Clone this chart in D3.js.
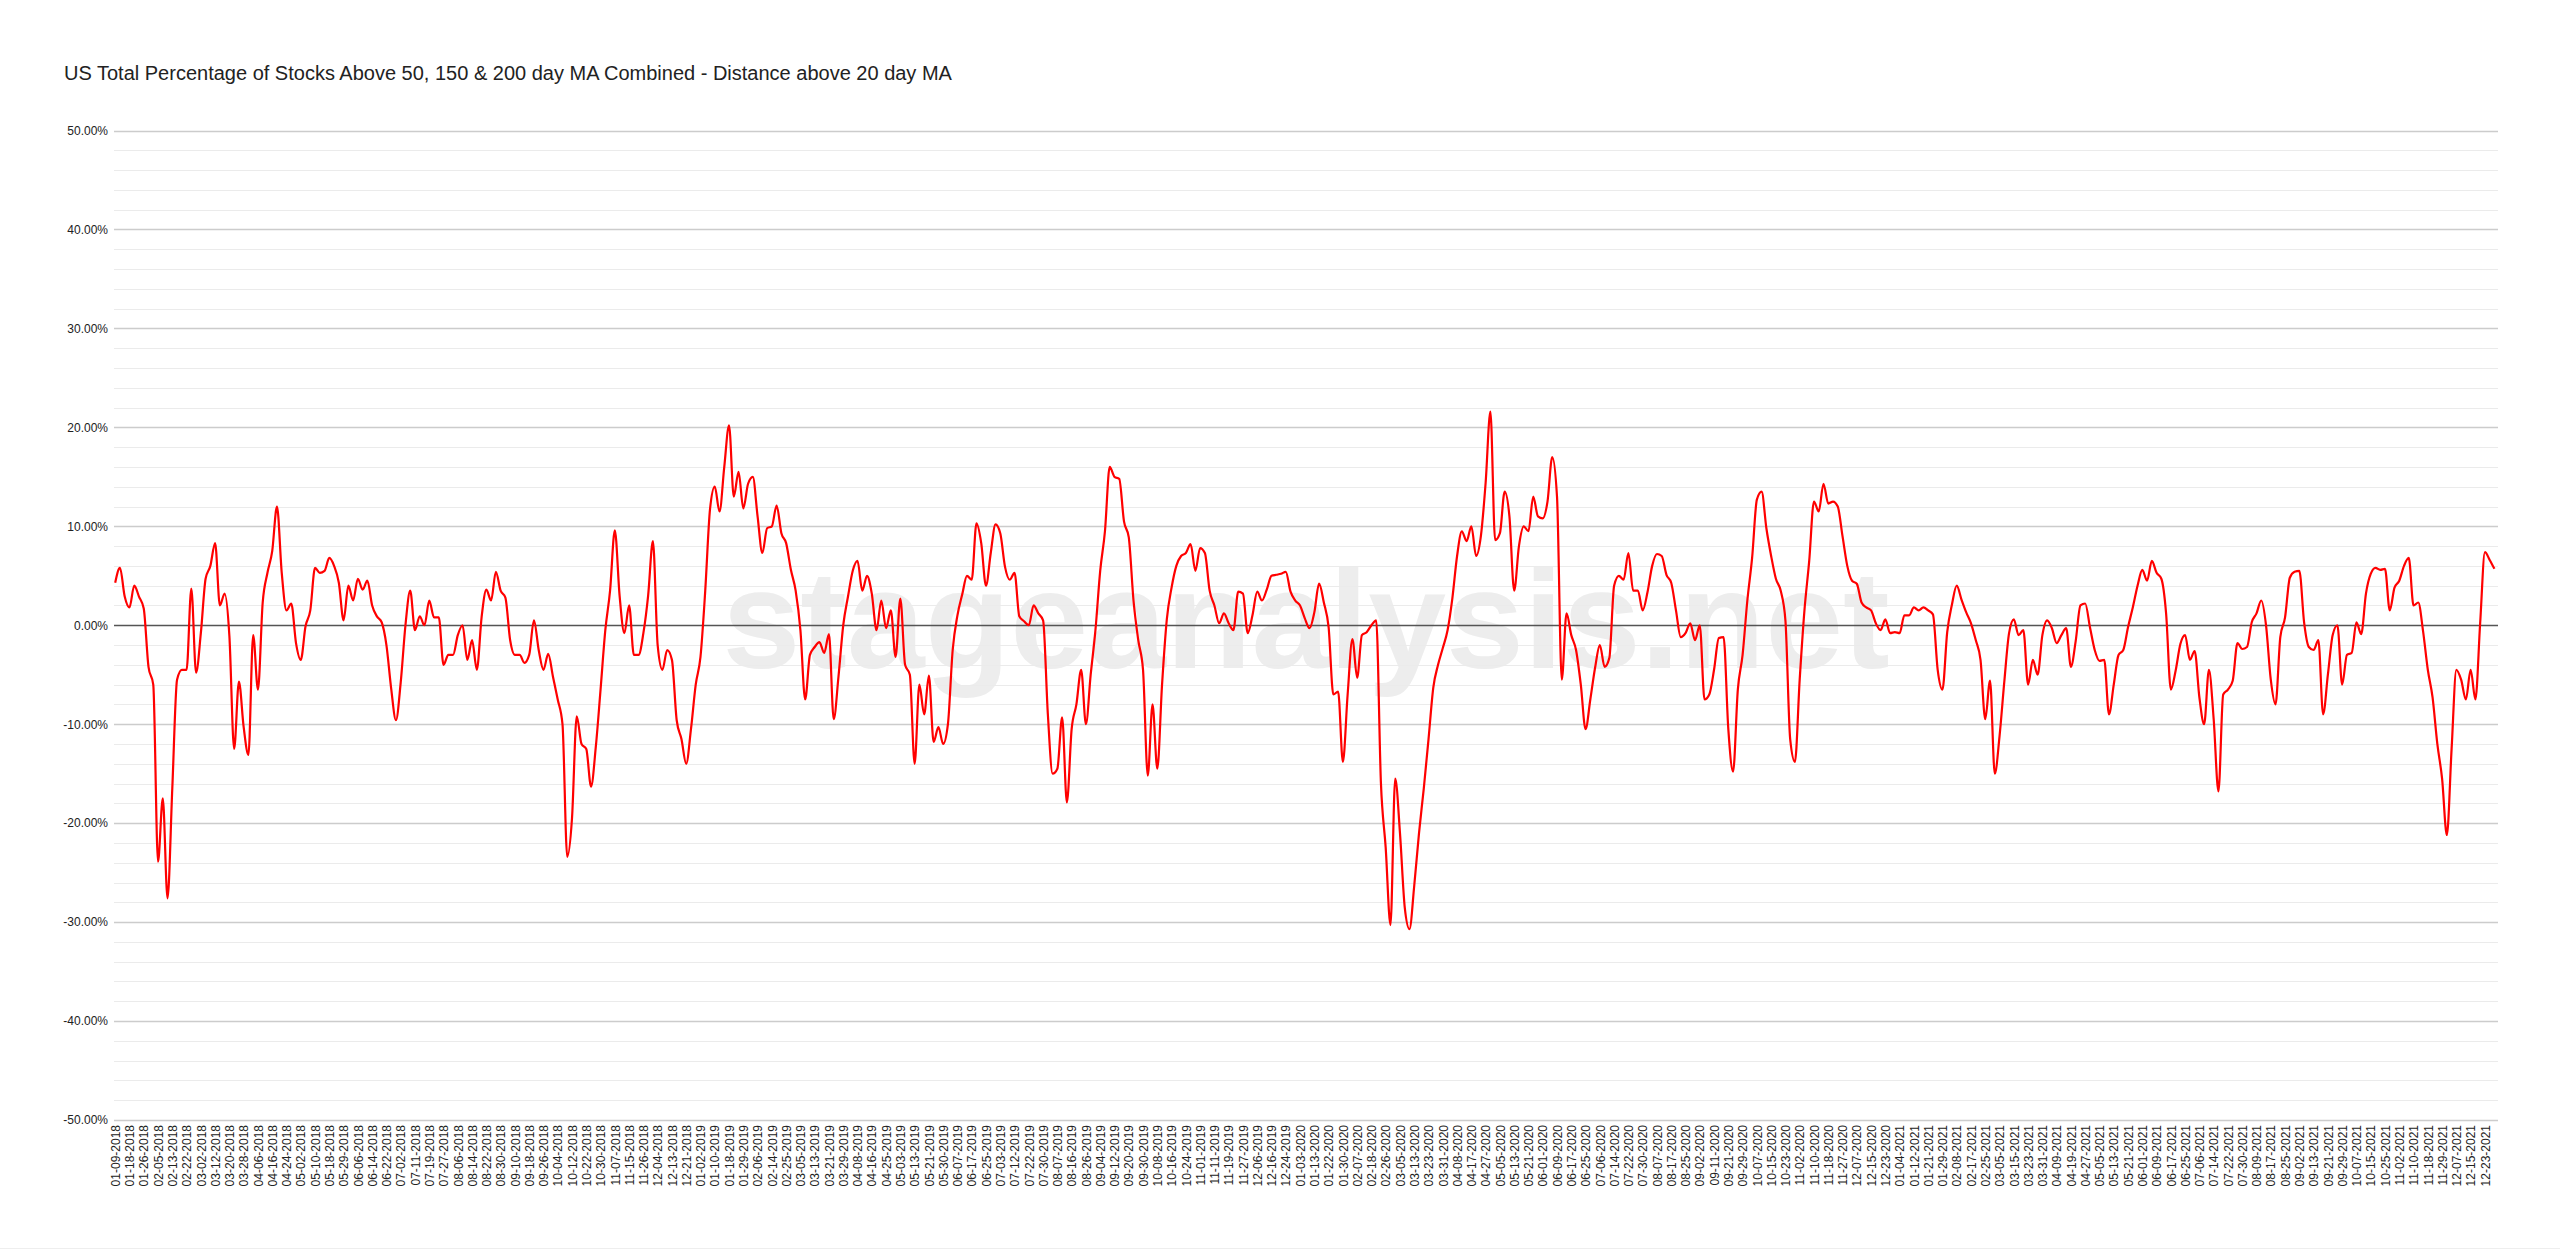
<!DOCTYPE html>
<html>
<head>
<meta charset="utf-8">
<script src="https://cdn.jsdelivr.net/npm/d3@7"></script>
<style>
    body { margin: 0; background: #fff; }
    svg text { font-family: Arial, "Liberation Sans", sans-serif; }
</style>
</head>
<body>
<svg id="chart" width="2560" height="1250"></svg>
<script>
const title = 'US Total Percentage of Stocks Above 50, 150 & 200 day MA Combined - Distance above 20 day MA';

// one label every 6 trading days
const tickLabels = [
    '01-09-2018', '01-18-2018', '01-26-2018', '02-05-2018', '02-13-2018', '02-22-2018', '03-02-2018', '03-12-2018', '03-20-2018', '03-28-2018',
    '04-06-2018', '04-16-2018', '04-24-2018', '05-02-2018', '05-10-2018', '05-18-2018', '05-29-2018', '06-06-2018', '06-14-2018', '06-22-2018',
    '07-02-2018', '07-11-2018', '07-19-2018', '07-27-2018', '08-06-2018', '08-14-2018', '08-22-2018', '08-30-2018', '09-10-2018', '09-18-2018',
    '09-26-2018', '10-04-2018', '10-12-2018', '10-22-2018', '10-30-2018', '11-07-2018', '11-15-2018', '11-26-2018', '12-04-2018', '12-13-2018',
    '12-21-2018',
    '01-02-2019', '01-10-2019', '01-18-2019', '01-29-2019', '02-06-2019', '02-14-2019', '02-25-2019', '03-05-2019', '03-13-2019', '03-21-2019',
    '03-29-2019', '04-08-2019', '04-16-2019', '04-25-2019', '05-03-2019', '05-13-2019', '05-21-2019', '05-30-2019', '06-07-2019', '06-17-2019',
    '06-25-2019', '07-03-2019', '07-12-2019', '07-22-2019', '07-30-2019', '08-07-2019', '08-16-2019', '08-26-2019', '09-04-2019', '09-12-2019',
    '09-20-2019', '09-30-2019', '10-08-2019', '10-16-2019', '10-24-2019', '11-01-2019', '11-11-2019', '11-19-2019', '11-27-2019', '12-06-2019',
    '12-16-2019', '12-24-2019',
    '01-03-2020', '01-13-2020', '01-22-2020', '01-30-2020', '02-07-2020', '02-18-2020', '02-26-2020', '03-05-2020', '03-13-2020', '03-23-2020',
    '03-31-2020', '04-08-2020', '04-17-2020', '04-27-2020', '05-05-2020', '05-13-2020', '05-21-2020', '06-01-2020', '06-09-2020', '06-17-2020',
    '06-25-2020', '07-06-2020', '07-14-2020', '07-22-2020', '07-30-2020', '08-07-2020', '08-17-2020', '08-25-2020', '09-02-2020', '09-11-2020',
    '09-21-2020', '09-29-2020', '10-07-2020', '10-15-2020', '10-23-2020', '11-02-2020', '11-10-2020', '11-18-2020', '11-27-2020', '12-07-2020',
    '12-15-2020', '12-23-2020',
    '01-04-2021', '01-12-2021', '01-21-2021', '01-29-2021', '02-08-2021', '02-17-2021', '02-25-2021', '03-05-2021', '03-15-2021', '03-23-2021',
    '03-31-2021', '04-09-2021', '04-19-2021', '04-27-2021', '05-05-2021', '05-13-2021', '05-21-2021', '06-01-2021', '06-09-2021', '06-17-2021',
    '06-25-2021', '07-06-2021', '07-14-2021', '07-22-2021', '07-30-2021', '08-09-2021', '08-17-2021', '08-25-2021', '09-02-2021', '09-13-2021',
    '09-21-2021', '09-29-2021', '10-07-2021', '10-15-2021', '10-25-2021', '11-02-2021', '11-10-2021', '11-18-2021', '11-29-2021', '12-07-2021',
    '12-15-2021', '12-23-2021'
];
const labelEvery = 6;
const dayCount = 1002;

// % distance, read every 2nd trading day
const dayStep = 2;
const values = [
    4.3, 5.8, 2.9, 1.8, 4.0, 2.9, 1.7, -4.2, -6.0, -23.9, -17.5, -27.6, -16.5, -5.5, -4.5, -4.5, 3.7, -4.8, -0.8, 4.7, 6.0, 8.3, 2.0, 3.2, -1.1,
    -12.5, -5.7, -10.3, -13.1, -1.0, -6.5, 2.3, 5.3, 7.5, 12.0, 5.3, 1.5, 2.2, -1.8, -3.5, -0.1, 1.5, 5.8, 5.3, 5.5, 6.8, 6.0, 4.3, 0.5, 4.0,
    2.5, 4.7, 3.6, 4.5, 2.0, 0.9, 0.3, -2.0, -6.4, -9.6, -5.8, 0.0, 3.5, -0.5, 0.9, 0.0, 2.5, 0.8, 0.8, -4.0, -3.0, -3.0, -1.0, 0.0, -3.5,
    -1.5, -4.5, 0.8, 3.6, 2.5, 5.4, 3.5, 2.8, -1.5, -3.0, -3.0, -3.8, -3.0, 0.5, -2.5, -4.5, -2.9, -5.2, -7.5, -10.0, -23.4, -19.5, -9.2, -12.0, -12.5,
    -16.3, -12.3, -6.5, -0.5, 3.5, 9.6, 3.0, -0.8, 2.0, -3.0, -3.0, -0.8, 3.0, 8.5, -2.0, -4.5, -2.5, -3.5, -9.6, -11.5, -14.0, -10.5, -6.0, -3.2, 3.5,
    11.7, 14.0, 11.5, 16.0, 20.2, 13.0, 15.5, 11.8, 14.3, 15.0, 11.0, 7.3, 9.8, 10.0, 12.1, 9.3, 8.3, 5.6, 3.5, -0.5, -7.5, -3.0, -2.2, -1.7, -2.8,
    -0.9, -9.5, -5.2, 0.0, 2.9, 5.5, 6.5, 3.5, 5.0, 3.2, -0.5, 2.5, -0.3, 1.5, -3.2, 2.7, -4.0, -5.0, -14.0, -6.0, -9.0, -5.1, -11.8, -10.3, -12.0,
    -10.0, -2.5, 1.0, 3.1, 5.0, 4.6, 10.3, 8.3, 4.0, 7.3, 10.2, 9.3, 5.9, 4.6, 5.3, 0.9, 0.4, 0.0, 2.0, 1.2, 0.5, -9.0, -15.0, -14.5, -9.3,
    -17.9, -10.5, -8.0, -4.5, -10.0, -5.0, -0.5, 5.5, 9.5, 16.0, 15.0, 14.8, 10.5, 8.9, 2.5, -1.5, -4.5, -15.2, -8.0, -14.5, -6.0, 0.6, 3.8, 6.0, 7.0,
    7.3, 8.2, 5.5, 7.8, 7.3, 3.5, 2.0, 0.2, 1.2, 0.2, -0.5, 3.4, 3.2, -0.8, 1.0, 3.4, 2.5, 3.6, 5.0, 5.1, 5.2, 5.4, 3.4, 2.5, 2.0,
    0.7, -0.3, 1.3, 4.2, 2.3, -0.2, -7.0, -6.7, -13.8, -7.0, -1.4, -5.3, -1.0, -0.7, 0.0, 0.5, -16.0, -22.5, -30.3, -15.5, -21.0, -28.5, -30.7, -26.3, -21.0,
    -16.5, -11.5, -6.3, -4.0, -2.3, -0.5, 2.7, 7.0, 9.5, 8.5, 10.0, 7.0, 9.0, 14.4, 21.6, 8.6, 9.3, 13.5, 11.0, 3.5, 8.0, 10.0, 9.5, 13.0, 11.0,
    10.8, 12.5, 17.0, 13.0, -5.5, 1.2, -1.0, -2.5, -6.0, -10.5, -7.5, -4.3, -2.0, -4.2, -3.3, 4.0, 5.0, 4.6, 7.3, 3.5, 3.5, 1.5, 3.3, 6.0, 7.2,
    7.0, 5.1, 4.3, 1.5, -1.2, -0.8, 0.2, -1.5, 0.0, -7.5, -7.0, -4.5, -1.3, -1.2, -10.5, -14.8, -6.5, -3.0, 2.5, 6.8, 12.7, 13.5, 9.8, 7.0, 4.7,
    3.5, 0.5, -11.5, -13.8, -5.5, 1.5, 6.5, 12.5, 11.5, 14.3, 12.3, 12.5, 12.0, 9.0, 6.0, 4.5, 4.2, 2.3, 1.8, 1.5, 0.2, -0.5, 0.6, -0.8, -0.7,
    -0.8, 1.0, 1.0, 1.8, 1.5, 1.8, 1.5, 1.1, -4.5, -6.5, -0.7, 2.1, 4.0, 2.6, 1.3, 0.2, -1.5, -3.5, -9.5, -5.6, -15.0, -11.2, -5.7, -0.8, 0.6,
    -1.0, -0.5, -6.0, -3.5, -5.0, -1.0, 0.5, -0.3, -1.8, -1.0, -0.3, -4.2, -1.6, 2.0, 2.2, -0.2, -2.5, -3.6, -3.5, -9.0, -6.0, -3.0, -2.5, -0.2, 1.8,
    4.0, 5.6, 4.5, 6.5, 5.3, 4.7, 1.2, -6.5, -4.6, -1.9, -1.0, -3.5, -2.6, -7.3, -10.0, -4.5, -9.5, -16.8, -7.0, -6.5, -5.6, -1.8, -2.4, -2.2, 0.3,
    1.2, 2.5, 0.0, -5.5, -8.0, -1.2, 0.8, 4.8, 5.4, 5.5, 0.3, -2.2, -2.5, -1.5, -9.0, -5.0, -1.0, 0.0, -6.0, -3.0, -2.8, 0.3, -0.9, 3.2, 5.2,
    5.8, 5.6, 5.7, 1.5, 3.8, 4.5, 6.0, 6.8, 2.0, 2.3, -0.6, -4.5, -7.3, -12.0, -15.5, -21.2, -12.5, -4.5, -5.5, -7.5, -4.5, -7.5, 0.2, 7.4, 6.6, 5.7
];

const yTicks = [50, 40, 30, 20, 10, 0, -10, -20, -30, -40, -50];

const plot = { left: 114, right: 2498, top: 130.5, bottom: 1120 };

const svg = d3.select('#chart');

const x = d3.scaleLinear()
    .domain([-0.5, dayCount - 0.5])
    .range([plot.left, plot.right]);

const y = d3.scaleLinear()
    .domain([-50, 50])
    .range([plot.bottom, plot.top]);

svg.append('rect')
    .attr('width', 2560)
    .attr('height', 1250)
    .attr('fill', '#fff');

// title
svg.append('text')
    .attr('x', 64)
    .attr('y', 80)
    .attr('font-size', 20)
    .attr('fill', '#222')
    .text(title);

// watermark sits under the grid
svg.append('text')
    .attr('x', 1306)
    .attr('y', 668)
    .attr('text-anchor', 'middle')
    .attr('font-size', 140)
    .attr('font-weight', 'bold')
    .attr('fill', '#ededed')
    .text('stageanalysis.net');

// grid: minor every 2%, major every 10%
const grid = svg.append('g').classed('grid', true);
grid.selectAll('line')
    .data(d3.range(-50, 51, 2))
    .enter()
    .append('line')
    .attr('x1', plot.left)
    .attr('x2', plot.right)
    .attr('y1', d => Math.round(y(d)) + 0.5)
    .attr('y2', d => Math.round(y(d)) + 0.5)
    .attr('stroke', d => d === 0 ? '#555' : (d % 10 === 0 ? '#cccccc' : '#ebebeb'))
    .attr('stroke-width', d => d === 0 ? 1.5 : (d % 10 === 0 ? 1.5 : 1));

// y labels
svg.append('g')
    .attr('transform', `translate(${plot.left}, 0)`)
    .call(d3.axisLeft(y)
        .tickValues(yTicks)
        .tickFormat(d => d.toFixed(2) + '%')
        .tickSize(0)
        .tickPadding(6))
    .call(g => g.select('.domain').remove())
    .selectAll('text')
    .attr('font-size', 12)
    .attr('fill', '#222');

// x labels, rotated
svg.append('g')
    .attr('transform', `translate(0, ${plot.bottom + 5})`)
    .call(d3.axisBottom(x)
        .tickValues(tickLabels.map((d, i) => i * labelEvery))
        .tickFormat((d, i) => tickLabels[i])
        .tickSize(0))
    .call(g => g.select('.domain').remove())
    .selectAll('text')
    .attr('transform', 'rotate(-90)')
    .attr('text-anchor', 'end')
    .attr('x', 0)
    .attr('y', 0)
    .attr('dy', '0.35em')
    .attr('font-size', 12)
    .attr('fill', '#222');

// series
const line = d3.line()
    .x((d, i) => x(i * dayStep))
    .y(d => y(d))
    .curve(d3.curveMonotoneX);

svg.append('path')
    .datum(values)
    .attr('d', line)
    .attr('fill', 'none')
    .attr('stroke', '#ff0000')
    .attr('stroke-width', 2.2)
    .attr('stroke-linejoin', 'round');

svg.append('line')
    .attr('x1', 0)
    .attr('x2', 2560)
    .attr('y1', 1248.5)
    .attr('y2', 1248.5)
    .attr('stroke', '#eeeeee');
</script>
</body>
</html>
